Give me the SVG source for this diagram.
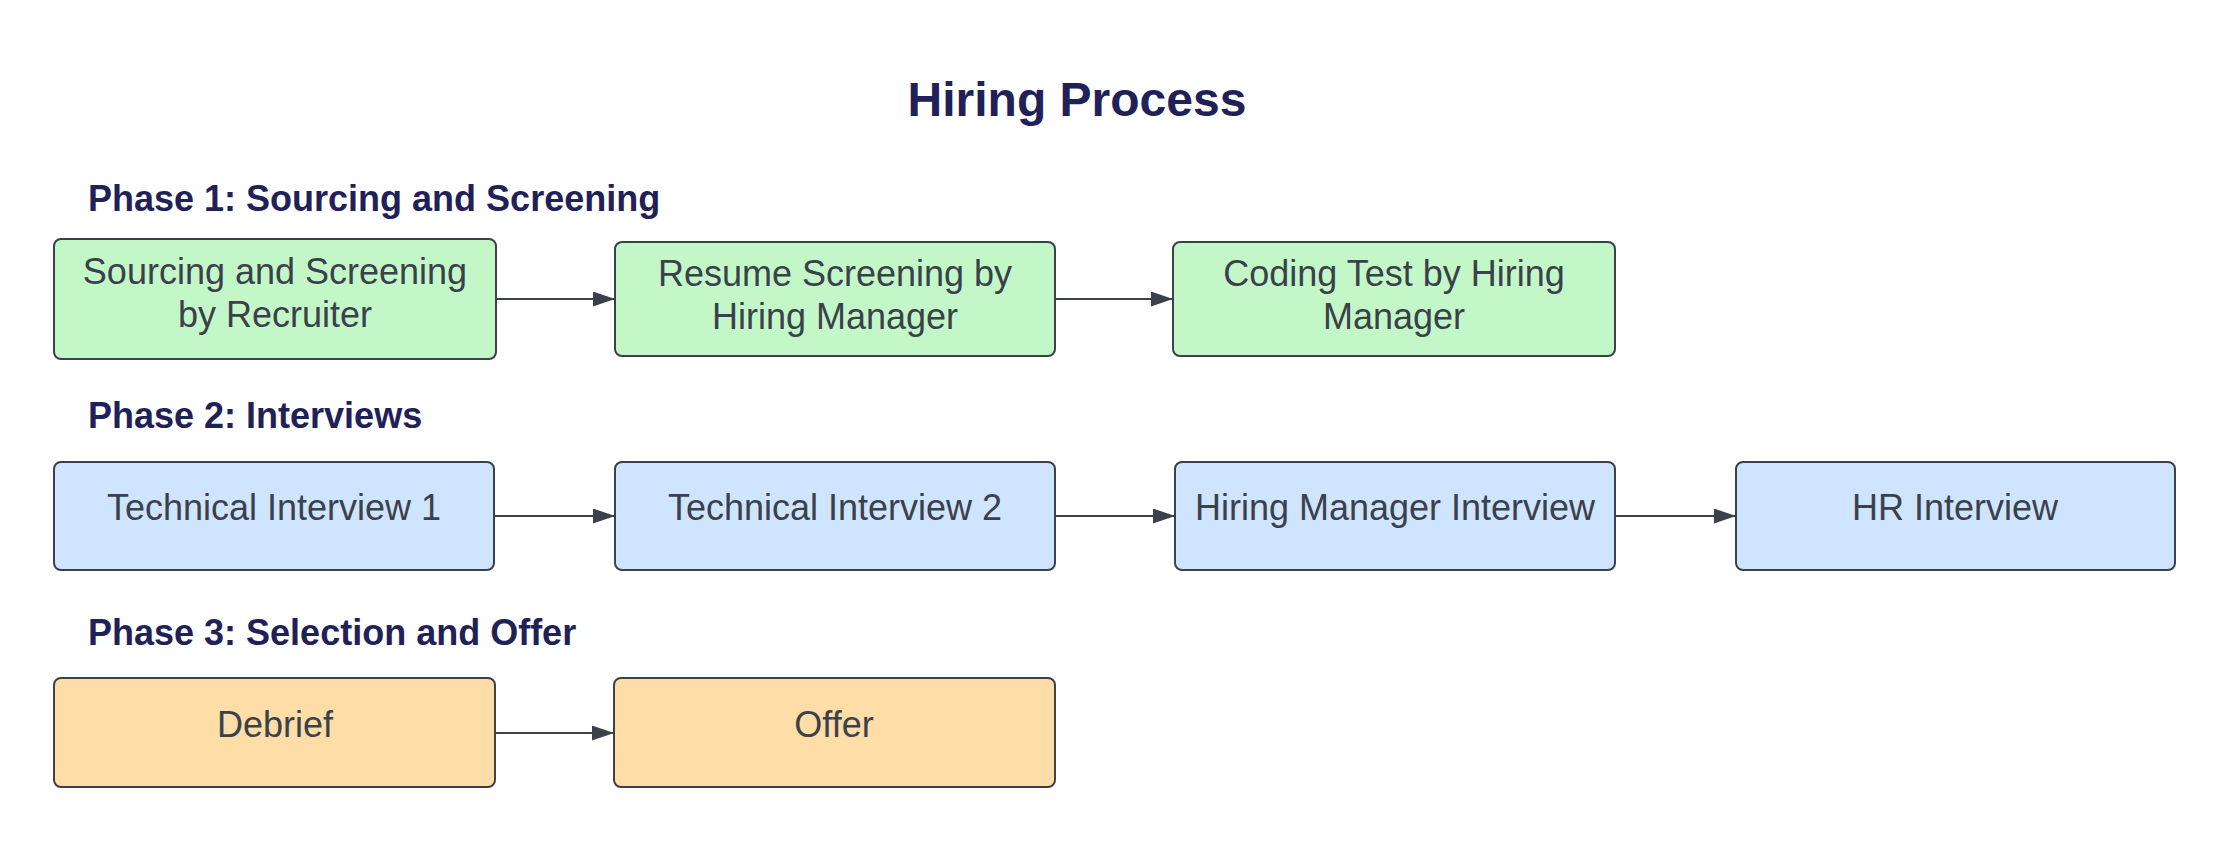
<svg xmlns="http://www.w3.org/2000/svg" width="2232" height="841" viewBox="0 0 2232 841">
<style>
.title{font-family:"Liberation Sans",Arial,sans-serif;font-weight:bold;font-size:48px;fill:#1f2158;text-anchor:middle}
.phase{font-family:"Liberation Sans",Arial,sans-serif;font-weight:bold;font-size:36px;fill:#1f2158}
.lbl{font-family:"Liberation Sans",Arial,sans-serif;font-size:36px;fill:#3a414a;text-anchor:middle}
.box{stroke:#3a414a;stroke-width:2}
.g{fill:#c3f7c8}
.b{fill:#cfe4ff}
.o{fill:#ffdda6}
.edge{stroke:#3a414a;stroke-width:2;fill:none;marker-end:url(#arr)}
</style>
<defs>
<marker id="arr" markerUnits="userSpaceOnUse" markerWidth="23" markerHeight="16" refX="22" refY="7.5" orient="auto">
<path d="M0,0 L22,7.5 L0,15 z" fill="#3a414a"/>
</marker>
</defs>
<rect width="2232" height="841" fill="#ffffff"/>
<text class="title" x="1077" y="116">Hiring Process</text>
<text class="phase" x="88" y="211">Phase 1: Sourcing and Screening</text>
<text class="phase" x="88" y="428">Phase 2: Interviews</text>
<text class="phase" x="88" y="645">Phase 3: Selection and Offer</text>

<g id="n1"><rect class="box g" x="54" y="239" width="442" height="120" rx="7"/>
<text class="lbl" x="275" y="284">Sourcing and Screening</text><text class="lbl" x="275" y="327">by Recruiter</text></g>
<g id="n2"><rect class="box g" x="615" y="242" width="440" height="114" rx="7"/>
<text class="lbl" x="835" y="286">Resume Screening by</text><text class="lbl" x="835" y="329">Hiring Manager</text></g>
<g id="n3"><rect class="box g" x="1173" y="242" width="442" height="114" rx="7"/>
<text class="lbl" x="1394" y="286">Coding Test by Hiring</text><text class="lbl" x="1394" y="329">Manager</text></g>

<g id="n4"><rect class="box b" x="54" y="462" width="440" height="108" rx="7"/>
<text class="lbl" x="274" y="520">Technical Interview 1</text></g>
<g id="n5"><rect class="box b" x="615" y="462" width="440" height="108" rx="7"/>
<text class="lbl" x="835" y="520">Technical Interview 2</text></g>
<g id="n6"><rect class="box b" x="1175" y="462" width="440" height="108" rx="7"/>
<text class="lbl" x="1395" y="520">Hiring Manager Interview</text></g>
<g id="n7"><rect class="box b" x="1736" y="462" width="439" height="108" rx="7"/>
<text class="lbl" x="1955" y="520">HR Interview</text></g>

<g id="n8"><rect class="box o" x="54" y="678" width="441" height="109" rx="7"/>
<text class="lbl" x="275" y="737">Debrief</text></g>
<g id="n9"><rect class="box o" x="614" y="678" width="441" height="109" rx="7"/>
<text class="lbl" x="834" y="737">Offer</text></g>

<g id="connectors">
<line class="edge" x1="496" y1="299" x2="615" y2="299"/>
<line class="edge" x1="1055" y1="299" x2="1173" y2="299"/>
<line class="edge" x1="494" y1="516" x2="615" y2="516"/>
<line class="edge" x1="1055" y1="516" x2="1175" y2="516"/>
<line class="edge" x1="1615" y1="516" x2="1736" y2="516"/>
<line class="edge" x1="495" y1="733" x2="614" y2="733"/>
</g>
</svg>
